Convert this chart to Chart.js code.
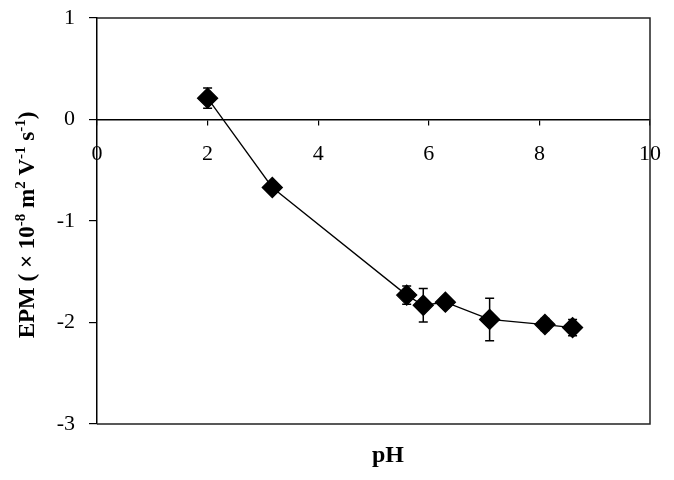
<!DOCTYPE html>
<html>
<head>
<meta charset="utf-8">
<script src="https://cdn.jsdelivr.net/npm/chart.js@4"></script>
<style>
  html, body { margin: 0; padding: 0; background: #fff; }
  #wrap { width: 674px; height: 480px; }
</style>
</head>
<body>
<div id="wrap"><canvas id="c" width="674" height="480"></canvas></div>
<script>
// data
const phValues = [2.0, 3.17, 5.6, 5.9, 6.3, 7.1, 8.1, 8.6];
const epmValues = [0.21, -0.67, -1.73, -1.83, -1.80, -1.97, -2.02, -2.05];
const epmErrors = [0.10, 0.04, 0.09, 0.165, 0.05, 0.21, 0.06, 0.08];
const xTicks = [0, 2, 4, 6, 8, 10];
const yTicks = [1, 0, -1, -2, -3];

const serif = '"Liberation Serif", "Times New Roman", serif';

const errorBars = {
  id: 'errorBars',
  beforeDatasetsDraw(chart) {
    const { ctx, scales: { x, y } } = chart;
    ctx.save();
    ctx.strokeStyle = '#000';
    ctx.lineWidth = 1.5;
    phValues.forEach((p, i) => {
      const px = x.getPixelForValue(p);
      const top = y.getPixelForValue(epmValues[i] + epmErrors[i]);
      const bot = y.getPixelForValue(epmValues[i] - epmErrors[i]);
      ctx.beginPath();
      ctx.moveTo(px, top); ctx.lineTo(px, bot);
      ctx.moveTo(px - 4.5, top); ctx.lineTo(px + 4.5, top);
      ctx.moveTo(px - 4.5, bot); ctx.lineTo(px + 4.5, bot);
      ctx.stroke();
    });
    ctx.restore();
  }
};

const frameAndTitles = {
  id: 'frameAndTitles',
  beforeDatasetsDraw(chart) {
    const { ctx, chartArea: a } = chart;
    ctx.save();
    ctx.strokeStyle = '#222';
    ctx.lineWidth = 1.5;
    ctx.beginPath();
    ctx.moveTo(a.left, a.top); ctx.lineTo(a.right, a.top);
    ctx.lineTo(a.right, a.bottom); ctx.lineTo(a.left, a.bottom);
    ctx.stroke();
    ctx.restore();
  },
  afterDraw(chart) {
    const { ctx } = chart;
    ctx.save();
    ctx.fillStyle = '#000';
    // x title
    ctx.font = 'bold 24px ' + serif;
    ctx.textAlign = 'center';
    ctx.textBaseline = 'middle';
    ctx.fillText('pH', 388, 456);
    // y title with superscripts
    const parts = [
      ['EPM ( × 10', false], ['-8', true], [' m', false], ['2', true],
      [' V', false], ['-1', true], [' s', false], ['-1', true], [')', false]
    ];
    const big = 'bold 23px ' + serif, small = 'bold 15px ' + serif;
    let total = 0;
    parts.forEach(([t, sup]) => { ctx.font = sup ? small : big; total += ctx.measureText(t).width; });
    ctx.translate(34, 225);
    ctx.rotate(-Math.PI / 2);
    ctx.textAlign = 'left';
    ctx.textBaseline = 'alphabetic';
    let cx = -total / 2;
    parts.forEach(([t, sup]) => {
      ctx.font = sup ? small : big;
      ctx.fillText(t, cx, sup ? -9 : 0);
      cx += ctx.measureText(t).width;
    });
    ctx.restore();
  }
};

new Chart(document.getElementById('c'), {
  type: 'line',
  data: {
    datasets: [{
      data: phValues.map((p, i) => ({ x: p, y: epmValues[i] })),
      borderColor: '#000',
      borderWidth: 1.3,
      backgroundColor: '#000',
      pointStyle: 'rectRot',
      pointRadius: 10,
      pointHoverRadius: 10,
      pointBackgroundColor: '#000',
      pointBorderColor: '#000',
      tension: 0
    }]
  },
  options: {
    responsive: false,
    animation: false,
    events: [],
    layout: { padding: { left: 0, top: 18, right: 24, bottom: 56 } },
    plugins: { legend: { display: false }, tooltip: { enabled: false } },
    scales: {
      x: {
        type: 'linear',
        min: 0, max: 10,
        position: { y: 0 },
        afterFit: (s) => { s.height = 0; s.paddingLeft = 0; s.paddingRight = 0; },
        afterBuildTicks: (s) => { s.ticks = xTicks.map(v => ({ value: v })); },
        border: { display: true, color: '#000', width: 1.5 },
        grid: { display: true, drawOnChartArea: false, tickLength: 5, color: '#000', lineWidth: 1.2 },
        ticks: { padding: 17, color: '#000', font: { family: serif, size: 22 }, maxRotation: 0 }
      },
      y: {
        type: 'linear',
        min: -3, max: 1,
        afterFit: (s) => { s.width = 97; s.paddingTop = 0; s.paddingBottom = 0; },
        afterBuildTicks: (s) => { s.ticks = yTicks.map(v => ({ value: v })); },
        border: { display: true, color: '#000', width: 1.5 },
        grid: { display: true, drawOnChartArea: false, tickLength: 8, color: '#000', lineWidth: 1.2 },
        ticks: { padding: 14, color: '#000', font: { family: serif, size: 22 } }
      }
    }
  },
  plugins: [frameAndTitles, errorBars]
});
</script>
</body>
</html>
